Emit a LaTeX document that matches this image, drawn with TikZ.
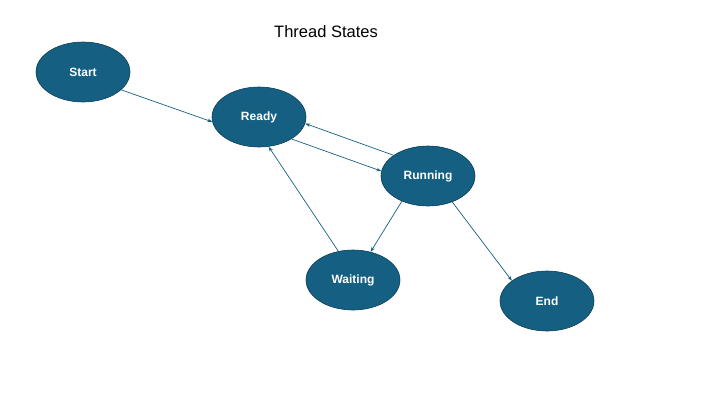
\documentclass[tikz,border=0pt]{standalone}
\usepackage{fontspec}
\setmainfont{Liberation Sans}
\usetikzlibrary{shapes.geometric,arrows.meta}
\definecolor{statefill}{HTML}{156082}
\definecolor{stateline}{HTML}{0E3F57}
\begin{document}
\begin{tikzpicture}[x=1pt,y=-1pt,
  state/.style={ellipse,draw=stateline,line width=0.6pt,fill=statefill,
    minimum width=94pt,minimum height=60pt,inner sep=0pt,
    text=white,font=\fontsize{12}{14}\selectfont\bfseries},
  link/.style={draw=statefill,line width=0.7pt,-{Stealth[length=5pt,width=3.5pt]}}]
\useasboundingbox (0,0) rectangle (720,405);
\node (title) at (326,32) {\fontsize{16.5}{19}\selectfont Thread States};
\node[state] (start) at (83,72) {Start};
\node[state] (ready) at (259,117) {Ready};
\node[state] (running) at (428,176) {Running};
\node[state] (waiting) at (353,280) {Waiting};
\node[state] (end) at (547,301) {End};
\draw[link] (start.-25) -- (ready.-174);
\draw[link] (ready.-34) -- (running.174);
\draw[link] (running.149) -- (ready.-8);
\draw[link] (running.-136) -- (waiting.58);
\draw[link] (waiting.117) -- (ready.-72);
\draw[link] (running.-47) -- (end.150);
\end{tikzpicture}
\end{document}
